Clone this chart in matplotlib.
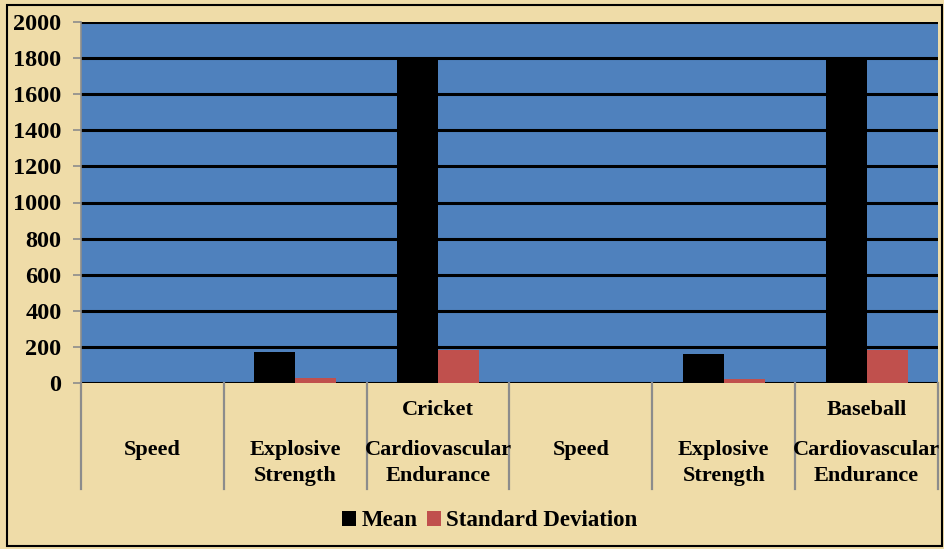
import matplotlib.pyplot as plt
from matplotlib.patches import Rectangle

# data
sports = ["Cricket", "Baseball"]
tests = [("Speed", ""), ("Explosive", "Strength"), ("Cardiovascular", "Endurance")]
mean_vals = [6.5, 172, 1795, 6.8, 161, 1806]
sd_vals = [0.4, 28, 183, 0.5, 22, 183]
yticks = [0, 200, 400, 600, 800, 1000, 1200, 1400, 1600, 1800, 2000]

plt.rcParams["font.family"] = "serif"
plt.rcParams["font.serif"] = ["Liberation Serif", "DejaVu Serif"]
plt.rcParams["font.weight"] = "bold"
FONT = "Liberation Serif"

paper = "#EFDCA8"
fig = plt.figure(figsize=(9.45, 5.49), dpi=100, facecolor=paper)

ax = fig.add_axes([81 / 945, 1 - 383 / 549, 857 / 945, 361 / 549])
ax.set_facecolor("#4F81BD")

n = len(mean_vals)
x = list(range(n))
w = 0.287
ax.bar([i - w / 2 for i in x], mean_vals, w, color="black", label="Mean", zorder=3)
ax.bar([i + w / 2 for i in x], sd_vals, w, color="#C0504D", label="Standard Deviation", zorder=3)

ax.set_xlim(-0.5, n - 0.5)
ax.set_ylim(0, 2000)
ax.set_yticks(yticks)
ax.set_yticklabels([str(t) for t in yticks], fontsize=17.5, fontweight="bold", family=FONT)
ax.set_xticks([])
ax.yaxis.grid(True, color="black", linewidth=2.2, zorder=1)
ax.set_axisbelow(True)
ax.tick_params(axis="y", length=6, width=1.2, color="#8c8c8c", pad=8)
for s in ["top", "right", "bottom"]:
    ax.spines[s].set_visible(False)
ax.spines["left"].set_color("#8c8c8c")
ax.spines["left"].set_linewidth(1.2)

# category table under the plot
tab = fig.add_axes([81 / 945, 1 - 489 / 549, 857 / 945, 106 / 549])
tab.set_xlim(-0.5, n - 0.5)
tab.set_ylim(0, 1)
tab.axis("off")
tab.patch.set_alpha(0)
for b in range(n + 1):
    tab.plot([b - 0.5, b - 0.5], [0, 1], color="#8c8c8c", linewidth=1.6, clip_on=False)

tk = dict(ha="center", va="center", fontsize=16, fontweight="bold", family=FONT)
for i in range(n):
    l1, l2 = tests[i % 3]
    tab.text(i, 0.368, l1, **tk)
    if l2:
        tab.text(i, 0.123, l2, **tk)
for k, sp in enumerate(sports):
    tab.text(3 * k + 2, 0.745, sp, **tk)

fig.legend(loc="center", bbox_to_anchor=(490 / 945, 1 - 521 / 549), ncol=2, frameon=False,
           prop={"size": 16.5, "weight": "bold", "family": FONT}, handlelength=0.6, handleheight=0.6,
           handletextpad=0.25, columnspacing=0.4)

# frame round the whole picture
fig.patches.append(Rectangle((7 / 945, 3 / 549), 935 / 945, 541 / 549, transform=fig.transFigure,
                             fill=False, edgecolor="black", linewidth=1.5))

fig.savefig("out.png", dpi=100, facecolor=paper)
